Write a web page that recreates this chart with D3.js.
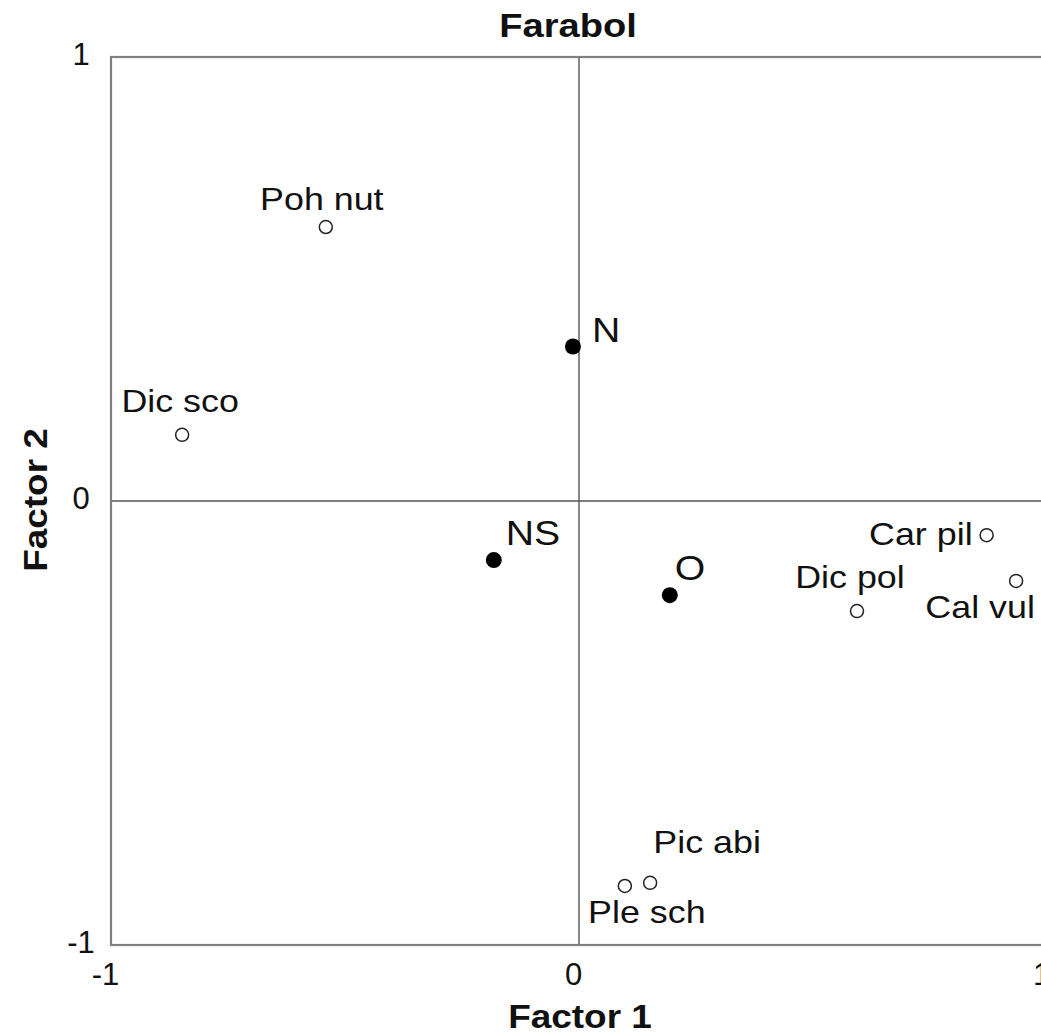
<!DOCTYPE html>
<html>
<head>
<meta charset="utf-8">
<script src="https://cdn.jsdelivr.net/npm/d3@7"></script>
<style>
  html, body { margin: 0; padding: 0; background: #fff; }
  svg { display: block; }
  text { font-family: "Liberation Sans", Arial, Helvetica, sans-serif; fill: #111; }
</style>
</head>
<body>
<svg id="chart" width="1041" height="1035"></svg>
<script>
// Correspondence analysis ordination, site "Farabol"
const title = "Farabol";
const xTitle = "Factor 1";
const yTitle = "Factor 2";
const tickValues = [-1, 0, 1];

// Species scores (open symbols)
const speciesNames = ["Poh nut", "Dic sco", "Car pil", "Cal vul", "Dic pol", "Pic abi", "Ple sch"];
const speciesF1 = [-0.541, -0.848, 0.871, 0.934, 0.594, 0.152, 0.098];
const speciesF2 = [0.617, 0.149, -0.077, -0.180, -0.248, -0.860, -0.867];

// Treatment scores (filled symbols)
const treatNames = ["N", "NS", "O"];
const treatF1 = [-0.013, -0.182, 0.194];
const treatF2 = [0.348, -0.133, -0.212];

// Label placement around each symbol: anchor and pixel offset to baseline
const labelPlacement = {
  "Poh nut": { anchor: "middle", dx: -4, dy: -17 },
  "Dic sco": { anchor: "middle", dx: -2, dy: -23 },
  "Car pil": { anchor: "end", dx: -14, dy: 10 },
  "Cal vul": { anchor: "middle", dx: -36, dy: 37 },
  "Dic pol": { anchor: "middle", dx: -7, dy: -23 },
  "Pic abi": { anchor: "middle", dx: 57, dy: -30 },
  "Ple sch": { anchor: "middle", dx: 22, dy: 37 },
  "N": { anchor: "start", dx: 19, dy: -4 },
  "NS": { anchor: "start", dx: 12, dy: -15 },
  "O": { anchor: "start", dx: 5, dy: -15 }
};

const svg = d3.select("#chart");
const margin = { left: 111, top: 57 };
const plotW = 936, plotH = 888;
const stretch = 1.12; // horizontal glyph stretch of the type

const x = d3.scaleLinear().domain([-1, 1]).range([margin.left, margin.left + plotW]);
const y = d3.scaleLinear().domain([-1, 1]).range([margin.top + plotH, margin.top]);

function label(sel, px, py, str, size, weight, anchor, rotate) {
  return sel.append("text")
    .attr("transform", `translate(${px},${py})` + (rotate ? ` rotate(${rotate})` : "") + ` scale(${stretch},1)`)
    .attr("text-anchor", anchor || "middle")
    .attr("font-size", size)
    .attr("font-weight", weight || "normal")
    .text(str);
}

// Zero reference lines
svg.append("line")
  .attr("x1", x(0)).attr("x2", x(0))
  .attr("y1", y(1)).attr("y2", y(-1))
  .attr("stroke", "#555").attr("stroke-width", 1.4);
svg.append("line")
  .attr("x1", x(-1)).attr("x2", x(1))
  .attr("y1", y(0)).attr("y2", y(0))
  .attr("stroke", "#555").attr("stroke-width", 1.4);

// Plot frame
svg.append("rect")
  .attr("x", x(-1)).attr("y", y(1))
  .attr("width", x(1) - x(-1)).attr("height", y(-1) - y(1))
  .attr("fill", "none").attr("stroke", "#808080").attr("stroke-width", 2.2);

// Axes (labels only, no tick marks)
const fmt = d => d < 0 ? "-" + Math.abs(d) : String(d);
const xAxis = svg.append("g")
  .attr("transform", `translate(0,${y(-1)})`)
  .call(d3.axisBottom(x).tickValues(tickValues).tickSize(0).tickFormat(fmt));
xAxis.select(".domain").remove();
xAxis.selectAll(".tick text")
  .attr("font-family", "Liberation Sans, Arial, sans-serif")
  .attr("font-size", 31).attr("fill", "#111")
  .attr("dy", 0).attr("y", 40).attr("x", -6);

const yAxis = svg.append("g")
  .attr("transform", `translate(${x(-1)},0)`)
  .call(d3.axisLeft(y).tickValues(tickValues).tickSize(0).tickFormat(fmt));
yAxis.select(".domain").remove();
yAxis.selectAll(".tick text")
  .attr("font-family", "Liberation Sans, Arial, sans-serif")
  .attr("font-size", 31).attr("fill", "#111")
  .attr("text-anchor", "middle")
  .attr("x", -30).attr("dy", "0.35em").attr("y", -3);

// Titles
label(svg, 568, 37, title, 34, "bold");
label(svg, 580, 1028, xTitle, 33, "bold");
label(svg, 47, 500, yTitle, 33, "bold", "middle", -90);

// Species: open circles
const species = speciesNames.map((n, i) => ({ name: n, f1: speciesF1[i], f2: speciesF2[i] }));
svg.append("g").selectAll("circle")
  .data(species).join("circle")
  .attr("cx", d => x(d.f1)).attr("cy", d => y(d.f2))
  .attr("r", 6.5)
  .attr("fill", "#fff").attr("stroke", "#222").attr("stroke-width", 1.5);

// Treatments: filled circles
const treats = treatNames.map((n, i) => ({ name: n, f1: treatF1[i], f2: treatF2[i] }));
svg.append("g").selectAll("circle")
  .data(treats).join("circle")
  .attr("cx", d => x(d.f1)).attr("cy", d => y(d.f2))
  .attr("r", 8)
  .attr("fill", "#000");

// Point labels
species.forEach(d => {
  const p = labelPlacement[d.name];
  label(svg, x(d.f1) + p.dx, y(d.f2) + p.dy, d.name, 32, "normal", p.anchor);
});
treats.forEach(d => {
  const p = labelPlacement[d.name];
  label(svg, x(d.f1) + p.dx, y(d.f2) + p.dy, d.name, 35, "normal", p.anchor);
});
</script>
</body>
</html>
